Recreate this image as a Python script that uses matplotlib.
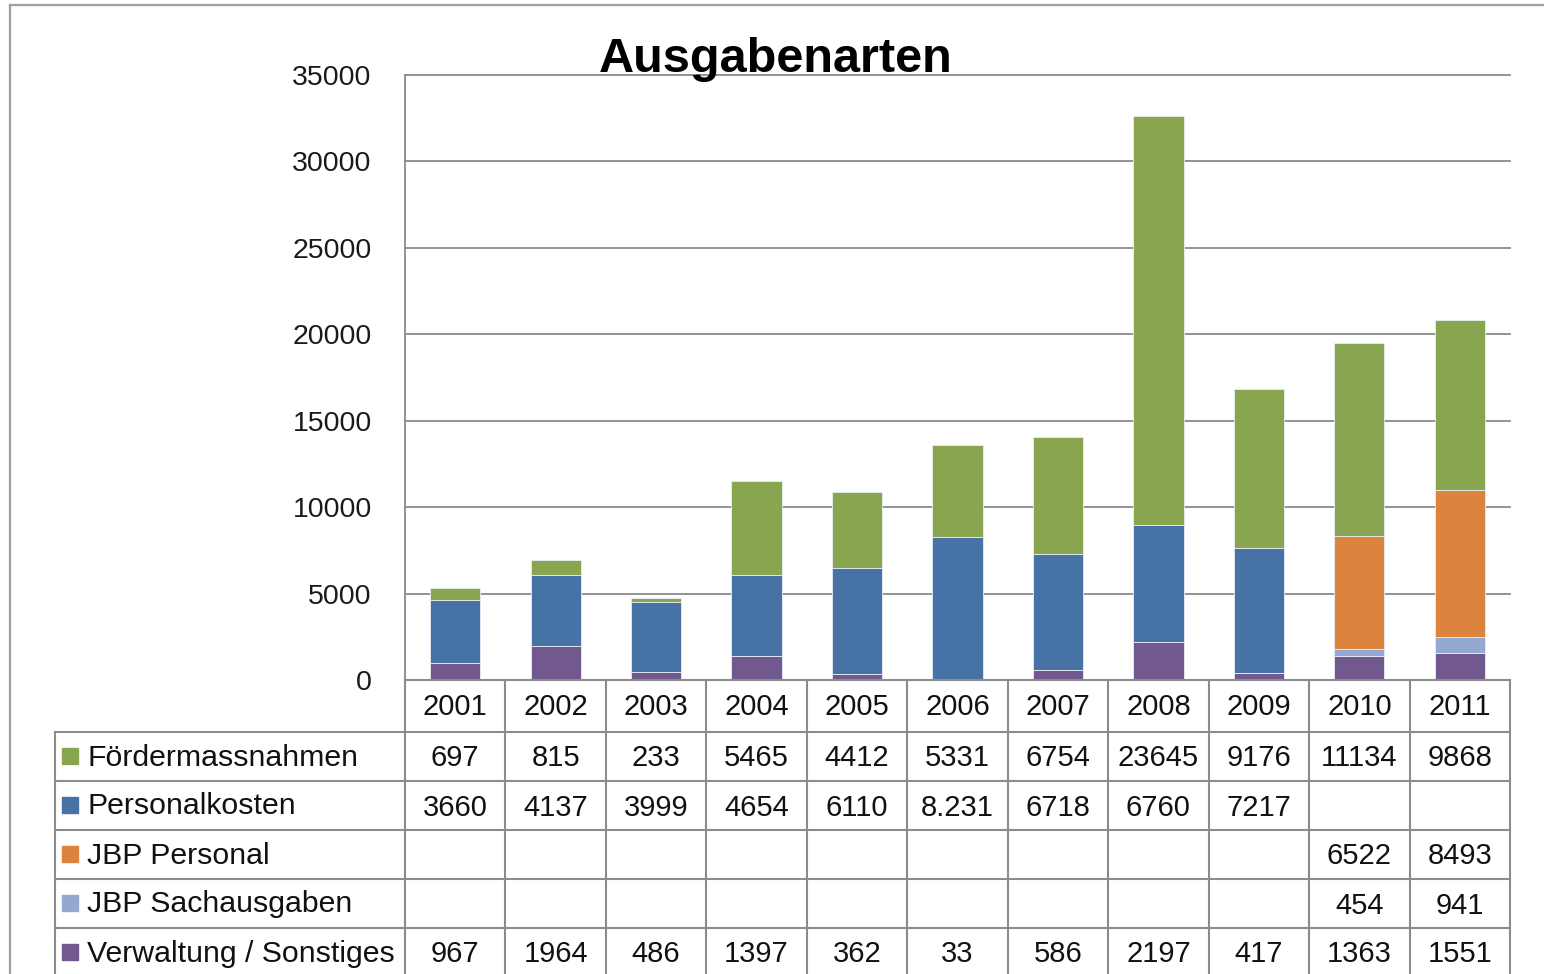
import matplotlib.pyplot as plt
import matplotlib.transforms as mtransforms
from matplotlib.patches import Rectangle

plt.rcParams['font.family'] = ['Liberation Sans', 'DejaVu Sans']

jahre = ['2001', '2002', '2003', '2004', '2005', '2006', '2007', '2008', '2009', '2010', '2011']
foerdermassnahmen = [697, 815, 233, 5465, 4412, 5331, 6754, 23645, 9176, 11134, 9868]
personalkosten = [3660, 4137, 3999, 4654, 6110, 8231, 6718, 6760, 7217, None, None]
jbp_personal = [None] * 9 + [6522, 8493]
jbp_sachausgaben = [None] * 9 + [454, 941]
verwaltung = [967, 1964, 486, 1397, 362, 33, 586, 2197, 417, 1363, 1551]

# Reihenfolge der Tabelle (oben -> unten)
reihen = [
    ('Fördermassnahmen', foerdermassnahmen, '#8AA54F'),
    ('Personalkosten', personalkosten, '#4672A6'),
    ('JBP Personal', jbp_personal, '#DC843D'),
    ('JBP Sachausgaben', jbp_sachausgaben, '#93A9CF'),
    ('Verwaltung / Sonstiges', verwaltung, '#71588F'),
]
# Zellen, die im Original mit Tausenderpunkt stehen
mit_punkt = {('Personalkosten', 5)}

W, H = 1544, 974
fig = plt.figure(figsize=(W / 100, H / 100), dpi=100)

ax = fig.add_axes([405 / W, (H - 680) / H, 1105 / W, 605 / H])
x = list(range(len(jahre)))

# gestapelt von unten nach oben
boden = [0] * len(jahre)
for name, werte, farbe in reversed(reihen):
    h = [v if v is not None else 0 for v in werte]
    ax.bar(x, h, width=0.5, bottom=boden, color=farbe, edgecolor='#e8eef5', linewidth=0.6, zorder=3)
    boden = [b + v for b, v in zip(boden, h)]

ax.set_xlim(-0.5, len(jahre) - 0.5)
ax.set_ylim(0, 35000)
ax.set_yticks(range(0, 35001, 5000))
ax.set_xticks([])
ax.grid(axis='y', color='#8a8a8a', linewidth=1.3, zorder=0)
for s in ['top', 'right', 'bottom']:
    ax.spines[s].set_visible(False)
ax.spines['left'].set_color('#8a8a8a')
ax.spines['left'].set_linewidth(1.3)
ax.tick_params(axis='y', length=0, pad=24, labelsize=20.5, labelcolor='#1a1a1a')
for gl in ax.get_ygridlines():
    gl.set_clip_on(False)

fig.text(776 / W, 1 - 72 / H, 'Ausgabenarten', fontsize=35, fontweight='bold',
         ha='center', va='baseline', color='black')

# Datentabelle unter dem Diagramm, Pixelkoordinaten
tax = fig.add_axes([0, 0, 1, 1], zorder=5)
tax.set_xlim(0, W)
tax.set_ylim(H, 0)
tax.axis('off')
spalte = mtransforms.blended_transform_factory(ax.transData, tax.transData)

linie = dict(color='#8c8c8c', linewidth=1.5)
zeilen = [680, 732, 781, 830, 879, 928, 977]
links, achse, rechts = 55, 405, 1510

# Rahmen um das ganze Diagramm
tax.plot([10, W], [5, 5], color='#a0a0a0', linewidth=1.6)
tax.plot([10, 10], [5, H], color='#a0a0a0', linewidth=1.6)

tax.plot([achse, rechts], [zeilen[0]] * 2, **linie)
for y in zeilen[1:-1]:
    tax.plot([links, rechts], [y, y], **linie)
tax.plot([links, links], [zeilen[1], H], **linie)
for i in range(len(jahre) + 1):
    tax.plot([i - 0.5, i - 0.5], [zeilen[0], H], transform=spalte, **linie)

tk = dict(fontsize=21, color='#111111', ha='center', va='center')
for i, jahr in enumerate(jahre):
    tax.text(i, (zeilen[0] + zeilen[1]) / 2 + 1, jahr, transform=spalte, **tk)

for r, (name, werte, farbe) in enumerate(reihen):
    ym = (zeilen[r + 1] + zeilen[r + 2]) / 2
    tax.add_patch(Rectangle((62, ym - 9), 16, 16, color=farbe))
    tax.text(87, ym + 1, name, fontsize=21.8, color='#111111', ha='left', va='center')
    for i, v in enumerate(werte):
        if v is None:
            continue
        txt = f'{v:,}'.replace(',', '.') if (name, i) in mit_punkt else str(v)
        tax.text(i, ym + 2, txt, transform=spalte, **tk)

fig.savefig('out.png', dpi=100)
